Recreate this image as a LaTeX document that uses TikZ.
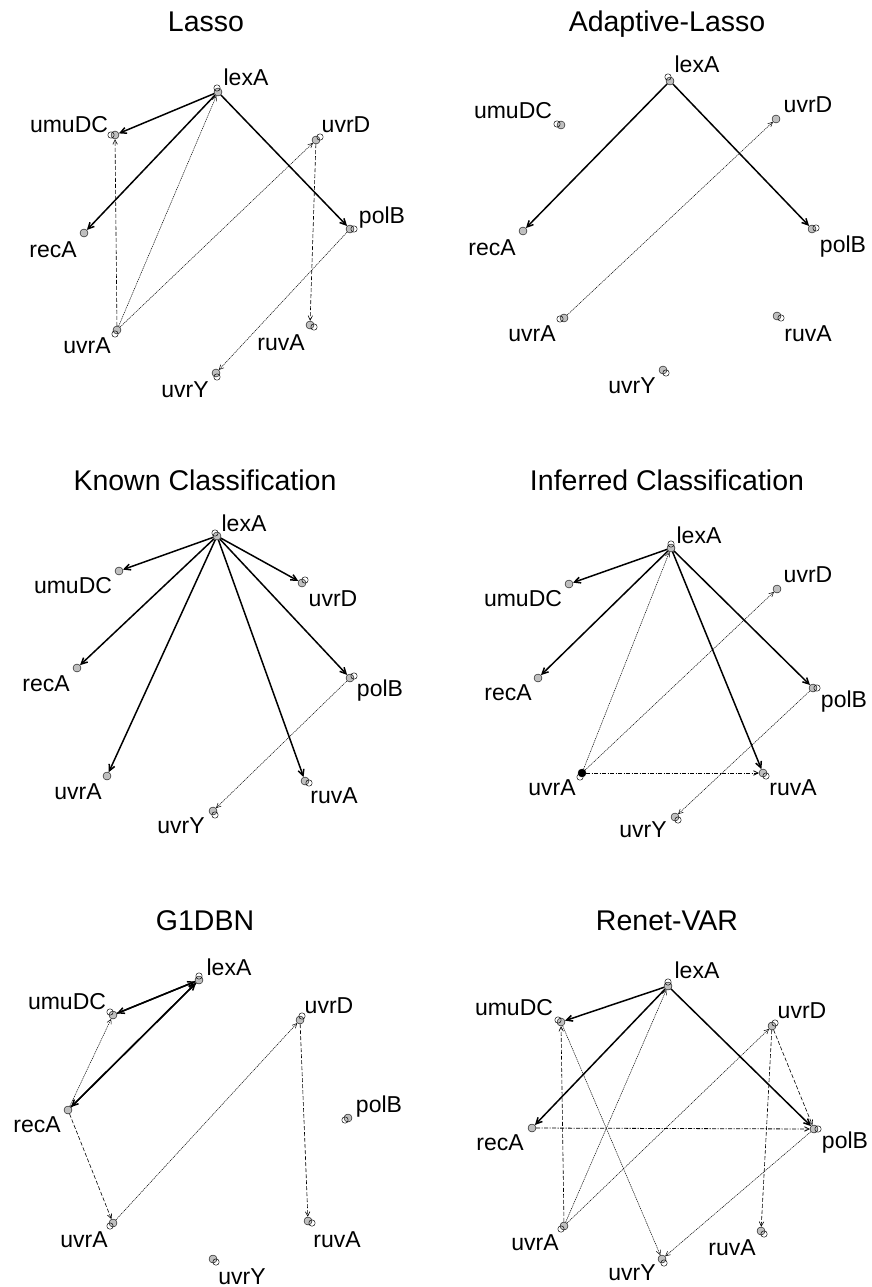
\documentclass[tikz,border=0pt]{standalone}
\usepackage{fontspec}
\setmainfont{Liberation Sans}
\usetikzlibrary{arrows.meta,calc}
\tikzset{
  vtx/.style={circle,draw=black,line width=0.4pt,fill=gray!50,minimum size=8pt,inner sep=0pt},
  vtxb/.style={vtx,fill=black},
  lbl/.style={anchor=base,font=\fontsize{23}{23}\selectfont,inner sep=0pt},
  ttl/.style={anchor=base,font=\fontsize{28.5}{28.5}\selectfont,inner sep=0pt},
  strong/.style={line width=1.5pt,-{Straight Barb[length=6pt,width=6pt]}},
  dsh/.style={line width=0.6pt,dash pattern=on 4pt off 2pt,-{Straight Barb[length=4.5pt,width=4.5pt]}},
  dtt/.style={line width=0.5pt,dash pattern=on 1.2pt off 0.8pt,-{Straight Barb[length=4.5pt,width=4.5pt]}},
  ddot/.style={line width=0.8pt,dash pattern=on 4pt off 1.5pt on 1pt off 1.5pt,-{Straight Barb[length=4.5pt,width=4.5pt]}},
  lp/.style={line width=0.45pt,draw=black}
}
\newcommand{\sloop}[3]{\draw[lp] ($(#1)+(#2,#3)$) circle (3.2);}
\begin{document}
\begin{tikzpicture}[x=1pt,y=-1pt]
\useasboundingbox (0,0) rectangle (871,1287);
\fill[white] (0,0) rectangle (871,1287);

% ===== Lasso =====
\node[ttl] (ta) at (206,32) {Lasso};
\node[vtx] (a-lexA) at (218,92) {};
\node[vtx] (a-umuDC) at (115,135) {};
\node[vtx] (a-uvrD) at (316,140) {};
\node[vtx] (a-polB) at (350,229) {};
\node[vtx] (a-recA) at (84,233) {};
\node[vtx] (a-uvrA) at (117,330) {};
\node[vtx] (a-ruvA) at (310,325) {};
\node[vtx] (a-uvrY) at (216,373) {};
\node[lbl] (la-lexA) at (246,86) {lexA};
\node[lbl] (la-umuDC) at (69,132) {umuDC};
\node[lbl] (la-uvrD) at (346,132) {uvrD};
\node[lbl] (la-polB) at (382,223) {polB};
\node[lbl] (la-recA) at (53,257) {recA};
\node[lbl] (la-uvrA) at (87,353) {uvrA};
\node[lbl] (la-ruvA) at (281,350) {ruvA};
\node[lbl] (la-uvrY) at (185,397) {uvrY};
\draw[strong] (a-lexA) -- (a-umuDC);
\draw[strong] (a-lexA) -- (a-recA);
\draw[strong] (a-lexA) -- (a-polB);
\draw[dsh] (a-uvrA) -- (a-umuDC);
\draw[dsh] (a-uvrD) -- (a-ruvA);
\draw[dtt] (a-uvrA) -- (a-lexA);
\draw[dtt] (a-uvrA) -- (a-uvrD);
\draw[dtt] (a-polB) -- (a-uvrY);
\sloop{a-lexA}{-1}{-4}
\sloop{a-umuDC}{-4}{0}
\sloop{a-uvrD}{4}{-3}
\sloop{a-polB}{4}{0}
\sloop{a-uvrA}{-2}{4}
\sloop{a-ruvA}{4}{2}
\sloop{a-uvrY}{1}{4}

% ===== Adaptive-Lasso =====
\node[ttl] (tb) at (667,32) {Adaptive-Lasso};
\node[vtx] (b-lexA) at (670,81) {};
\node[vtx] (b-umuDC) at (561,125) {};
\node[vtx] (b-uvrD) at (776,119) {};
\node[vtx] (b-polB) at (812,229) {};
\node[vtx] (b-recA) at (523,231) {};
\node[vtx] (b-uvrA) at (564,318) {};
\node[vtx] (b-ruvA) at (777,316) {};
\node[vtx] (b-uvrY) at (663,370) {};
\node[lbl] (lb-lexA) at (697,73) {lexA};
\node[lbl] (lb-umuDC) at (513,119) {umuDC};
\node[lbl] (lb-uvrD) at (808,113) {uvrD};
\node[lbl] (lb-polB) at (843,252) {polB};
\node[lbl] (lb-recA) at (492,255) {recA};
\node[lbl] (lb-uvrA) at (532,341) {uvrA};
\node[lbl] (lb-ruvA) at (808,341) {ruvA};
\node[lbl] (lb-uvrY) at (632,393) {uvrY};
\draw[strong] (b-lexA) -- (b-recA);
\draw[strong] (b-lexA) -- (b-polB);
\draw[dtt] (b-uvrA) -- (b-uvrD);
\sloop{b-lexA}{-2}{-4}
\sloop{b-umuDC}{-4}{-1}
\sloop{b-polB}{4}{-1}
\sloop{b-uvrA}{-4}{1}
\sloop{b-ruvA}{4}{2}
\sloop{b-uvrY}{3}{3}

% ===== Known Classification =====
\node[ttl] (tc) at (205,490) {Known Classification};
\node[vtx] (c-lexA) at (217,536) {};
\node[vtx] (c-umuDC) at (119,571) {};
\node[vtx] (c-uvrD) at (302,583) {};
\node[vtx] (c-polB) at (350,678) {};
\node[vtx] (c-recA) at (77,668) {};
\node[vtx] (c-uvrA) at (107,776) {};
\node[vtx] (c-ruvA) at (305,781) {};
\node[vtx] (c-uvrY) at (213,811) {};
\node[lbl] (lc-lexA) at (244,531) {lexA};
\node[lbl] (lc-umuDC) at (73,593) {umuDC};
\node[lbl] (lc-uvrD) at (333,606) {uvrD};
\node[lbl] (lc-polB) at (380,696) {polB};
\node[lbl] (lc-recA) at (46,691) {recA};
\node[lbl] (lc-uvrA) at (78,799) {uvrA};
\node[lbl] (lc-ruvA) at (334,803) {ruvA};
\node[lbl] (lc-uvrY) at (181,833) {uvrY};
\draw[strong] (c-lexA) -- (c-umuDC);
\draw[strong] (c-lexA) -- (c-recA);
\draw[strong] (c-lexA) -- (c-uvrA);
\draw[strong] (c-lexA) -- (c-ruvA);
\draw[strong] (c-lexA) -- (c-polB);
\draw[strong] (c-lexA) -- (c-uvrD);
\draw[dtt] (c-polB) -- (c-uvrY);
\sloop{c-lexA}{-2}{-3}
\sloop{c-uvrD}{3}{-3}
\sloop{c-polB}{4}{-2}
\sloop{c-ruvA}{4}{2}
\sloop{c-uvrY}{2}{4}

% ===== Inferred Classification =====
\node[ttl] (td) at (667,490) {Inferred Classification};
\node[vtx] (d-lexA) at (671,548) {};
\node[vtx] (d-umuDC) at (569,584) {};
\node[vtx] (d-uvrD) at (777,589) {};
\node[vtx] (d-polB) at (813,688) {};
\node[vtx] (d-recA) at (538,678) {};
\node[vtxb] (d-uvrA) at (582,773) {};
\node[vtx] (d-ruvA) at (763,773) {};
\node[vtx] (d-uvrY) at (675,817) {};
\node[lbl] (ld-lexA) at (699,543) {lexA};
\node[lbl] (ld-umuDC) at (523,606) {umuDC};
\node[lbl] (ld-uvrD) at (808,582) {uvrD};
\node[lbl] (ld-polB) at (844,707) {polB};
\node[lbl] (ld-recA) at (508,700) {recA};
\node[lbl] (ld-uvrA) at (552,795) {uvrA};
\node[lbl] (ld-ruvA) at (793,795) {ruvA};
\node[lbl] (ld-uvrY) at (643,837) {uvrY};
\draw[strong] (d-lexA) -- (d-umuDC);
\draw[strong] (d-lexA) -- (d-recA);
\draw[strong] (d-lexA) -- (d-ruvA);
\draw[strong] (d-lexA) -- (d-polB);
\draw[dtt] (d-uvrA) -- (d-lexA);
\draw[dtt] (d-uvrA) -- (d-uvrD);
\draw[dtt] (d-polB) -- (d-uvrY);
\draw[ddot] (d-uvrA) -- (d-ruvA);
\sloop{d-lexA}{0}{-4}
\sloop{d-polB}{4}{0}
\sloop{d-uvrA}{-2}{4}
\sloop{d-ruvA}{3}{3}
\sloop{d-uvrY}{3}{3}

% ===== G1DBN =====
\node[ttl] (te) at (205,930) {G1DBN};
\node[vtx] (e-lexA) at (199,980) {};
\node[vtx] (e-umuDC) at (113,1015) {};
\node[vtx] (e-uvrD) at (300,1020) {};
\node[vtx] (e-polB) at (348,1118) {};
\node[vtx] (e-recA) at (68,1110) {};
\node[vtx] (e-uvrA) at (113,1223) {};
\node[vtx] (e-ruvA) at (308,1221) {};
\node[vtx] (e-uvrY) at (213,1259) {};
\node[lbl] (le-lexA) at (229,975) {lexA};
\node[lbl] (le-umuDC) at (67,1009) {umuDC};
\node[lbl] (le-uvrD) at (329,1013) {uvrD};
\node[lbl] (le-polB) at (379,1112) {polB};
\node[lbl] (le-recA) at (37,1132) {recA};
\node[lbl] (le-uvrA) at (84,1247) {uvrA};
\node[lbl] (le-ruvA) at (337,1247) {ruvA};
\node[lbl] (le-uvrY) at (242,1284) {uvrY};
\draw[strong] (e-lexA) -- (e-umuDC);
\draw[strong] (e-umuDC) -- (e-lexA);
\draw[strong] (e-lexA) -- (e-recA);
\draw[strong] (e-recA) -- (e-lexA);
\draw[dtt] (e-recA) -- (e-umuDC);
\draw[dtt] (e-uvrA) -- (e-uvrD);
\draw[dsh] (e-recA) -- (e-uvrA);
\draw[dsh] (e-uvrD) -- (e-ruvA);
\sloop{e-lexA}{0}{-4}
\sloop{e-umuDC}{-3}{-3}
\sloop{e-uvrD}{2}{-4}
\sloop{e-polB}{-3}{2}
\sloop{e-uvrA}{-3}{3}
\sloop{e-ruvA}{4}{2}
\sloop{e-uvrY}{3}{3}

% ===== Renet-VAR =====
\node[ttl] (tf) at (667,930) {Renet-VAR};
\node[vtx] (f-lexA) at (668,986) {};
\node[vtx] (f-umuDC) at (561,1022) {};
\node[vtx] (f-uvrD) at (772,1026) {};
\node[vtx] (f-polB) at (814,1129) {};
\node[vtx] (f-recA) at (532,1128) {};
\node[vtx] (f-uvrA) at (564,1226) {};
\node[vtx] (f-ruvA) at (761,1231) {};
\node[vtx] (f-uvrY) at (662,1259) {};
\node[lbl] (lf-lexA) at (697,978) {lexA};
\node[lbl] (lf-umuDC) at (514,1015) {umuDC};
\node[lbl] (lf-uvrD) at (802,1018) {uvrD};
\node[lbl] (lf-polB) at (845,1148) {polB};
\node[lbl] (lf-recA) at (500,1150) {recA};
\node[lbl] (lf-uvrA) at (535,1250) {uvrA};
\node[lbl] (lf-ruvA) at (732,1255) {ruvA};
\node[lbl] (lf-uvrY) at (632,1280) {uvrY};
\draw[strong] (f-lexA) -- (f-umuDC);
\draw[strong] (f-lexA) -- (f-recA);
\draw[strong] (f-lexA) -- (f-polB);
\draw[dsh] (f-uvrA) -- (f-umuDC);
\draw[dsh] (f-uvrD) -- (f-ruvA);
\draw[dsh] (f-uvrD) -- (f-polB);
\draw[dtt] (f-uvrA) -- (f-lexA);
\draw[dtt] (f-uvrA) -- (f-uvrD);
\draw[dtt] (f-umuDC) -- (f-uvrY);
\draw[dtt] (f-polB) -- (f-uvrY);
\draw[ddot] (f-recA) -- (f-polB);
\sloop{f-lexA}{0}{-4}
\sloop{f-umuDC}{-3}{-2}
\sloop{f-uvrD}{3}{-3}
\sloop{f-polB}{4}{0}
\sloop{f-uvrA}{-3}{3}
\sloop{f-ruvA}{3}{3}
\sloop{f-uvrY}{2}{4}
\end{tikzpicture}
\end{document}
